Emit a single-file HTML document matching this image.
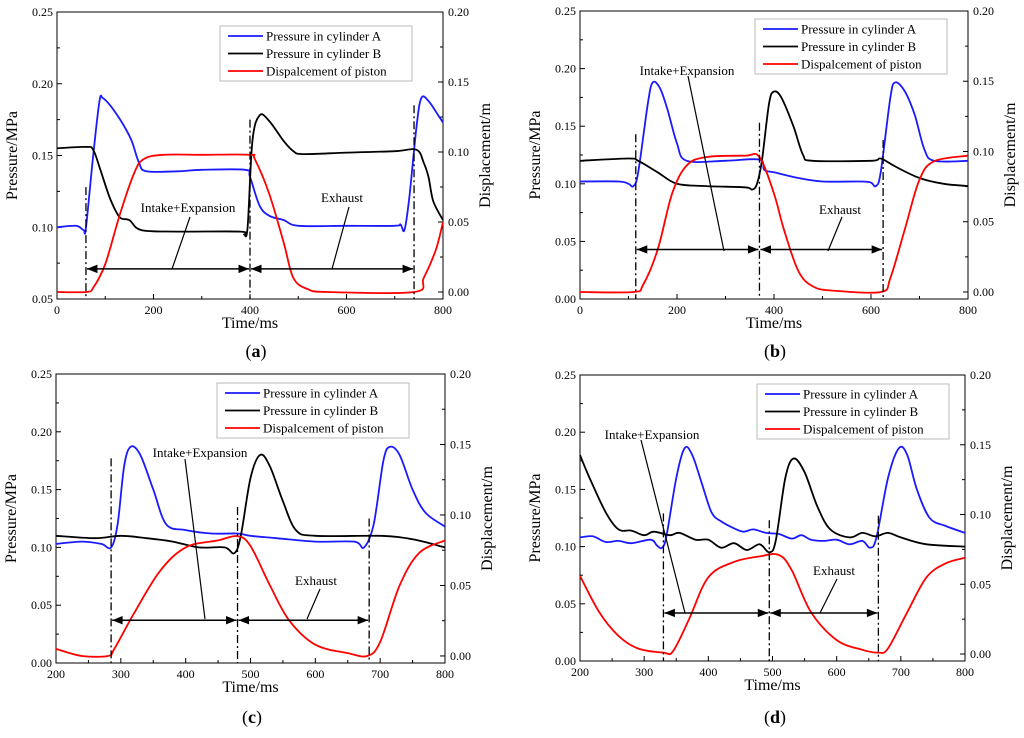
<!DOCTYPE html>
<html><head><meta charset="utf-8"><style>
body{margin:0;background:#fff;width:1024px;height:733px;overflow:hidden}
svg{font-family:"Liberation Serif",serif}
</style></head><body>
<svg id="chart" width="1024" height="733" viewBox="0 0 1024 733"></svg>
<script>
// ---- data (time ms, pressure MPa / displacement m) ----
const aTimeA=[0,40,55,60,75,88,95,110,125,140,155,170,185,250,300,390,400,420,440,470,500,600,700,712,720,730,745,755,770,790,800];
const aPresA=[0.100,0.101,0.098,0.100,0.150,0.188,0.190,0.185,0.178,0.170,0.160,0.145,0.139,0.139,0.140,0.140,0.135,0.115,0.108,0.105,0.101,0.101,0.101,0.102,0.098,0.120,0.170,0.190,0.188,0.178,0.173];
const aTimeB=[0,60,75,90,110,130,150,175,250,380,388,395,405,420,440,470,490,510,600,700,745,760,770,780,800];
const aPresB=[0.155,0.156,0.154,0.140,0.120,0.107,0.105,0.098,0.097,0.097,0.095,0.100,0.160,0.178,0.174,0.160,0.153,0.151,0.152,0.153,0.154,0.145,0.135,0.118,0.105];
const aTimeD=[0,60,75,100,130,160,180,220,300,400,410,440,470,490,520,560,740,760,785,800];
const aDisp=[0,0,0.003,0.020,0.055,0.085,0.095,0.098,0.098,0.098,0.095,0.070,0.035,0.010,0.002,0,0,0.010,0.030,0.050];

const bTimeA=[0,80,100,110,120,140,150,165,180,200,220,300,370,380,400,450,500,580,600,610,620,640,650,670,690,710,730,800];
const bPresA=[0.102,0.102,0.100,0.098,0.110,0.170,0.188,0.183,0.165,0.135,0.120,0.120,0.121,0.112,0.110,0.105,0.102,0.102,0.101,0.098,0.110,0.175,0.188,0.180,0.160,0.130,0.120,0.120];
const bTimeB=[0,100,120,160,200,260,340,355,365,375,390,400,415,440,460,480,600,620,650,700,750,800];
const bPresB=[0.120,0.122,0.120,0.110,0.100,0.098,0.097,0.095,0.100,0.120,0.170,0.180,0.175,0.150,0.125,0.120,0.120,0.122,0.115,0.105,0.100,0.098];
const bTimeD=[0,110,130,160,190,220,260,340,370,400,420,450,480,520,620,640,670,700,730,800];
const bDisp=[0,0,0.005,0.030,0.070,0.090,0.096,0.097,0.096,0.070,0.045,0.015,0.004,0.001,0,0.010,0.045,0.080,0.093,0.097];

const cTimeA=[200,240,270,285,295,305,315,330,350,370,400,440,480,500,540,600,660,675,690,705,715,730,750,770,800];
const cPresA=[0.103,0.105,0.103,0.100,0.120,0.170,0.187,0.180,0.150,0.120,0.115,0.112,0.112,0.110,0.108,0.105,0.105,0.100,0.120,0.175,0.187,0.180,0.150,0.130,0.118];
const cTimeB=[200,260,300,340,380,420,460,475,485,500,515,530,550,570,600,700,750,800];
const cPresB=[0.110,0.108,0.110,0.108,0.105,0.100,0.100,0.095,0.110,0.160,0.180,0.170,0.140,0.115,0.110,0.110,0.107,0.100];
const cTimeD=[200,240,280,290,320,360,400,450,480,500,530,560,600,650,680,700,730,760,800];
const cDisp=[0.005,0,0,0.005,0.030,0.060,0.077,0.082,0.085,0.078,0.050,0.025,0.008,0.002,0,0.010,0.050,0.073,0.082];

const dTimeA=[200,220,240,260,280,310,320,328,335,350,363,375,390,405,420,440,455,470,490,510,530,545,560,580,600,620,640,652,662,680,697,710,725,745,770,800];
const dPresA=[0.108,0.109,0.104,0.105,0.103,0.106,0.101,0.099,0.110,0.160,0.186,0.180,0.155,0.130,0.122,0.116,0.113,0.115,0.112,0.111,0.107,0.110,0.106,0.105,0.106,0.102,0.105,0.099,0.108,0.160,0.186,0.180,0.150,0.125,0.118,0.112];
const dTimeB=[200,215,240,260,280,300,315,340,355,380,400,420,440,460,480,495,505,520,533,550,570,590,620,640,660,680,700,740,800];
const dPresB=[0.180,0.160,0.130,0.115,0.114,0.110,0.113,0.110,0.112,0.106,0.106,0.099,0.103,0.097,0.102,0.095,0.105,0.160,0.177,0.165,0.135,0.115,0.108,0.112,0.109,0.112,0.108,0.102,0.100];
const dTimeD=[200,230,260,290,330,345,370,400,440,480,510,530,560,600,640,665,680,710,740,770,800];
const dDisp=[0.056,0.030,0.013,0.004,0.001,0.002,0.025,0.055,0.066,0.070,0.071,0.060,0.030,0.010,0.003,0.001,0.004,0.030,0.055,0.065,0.069];

const aStroke=[60,400,740], bStroke=[115,370,625], cStroke=[285,480,683], dStroke=[330,495,665];
const aStrokeTop=[0.128,0.175,0.185], bStrokeTop=[0.143,0.153,0.138], cStrokeTop=[0.177,0.135,0.125], dStrokeTop=[0.129,0.123,0.127];
const aArrowP=0.071, bArrowP=0.043, cArrowP=0.037, dArrowP=0.042;
const leftTicksA=["0.05","0.10","0.15","0.20","0.25"];
const leftTicks=["0.00","0.05","0.10","0.15","0.20","0.25"];
const rightTicks=["0.00","0.05","0.10","0.15","0.20"];
const xTicks08=[0,200,400,600,800];
const xTicks28=[200,300,400,500,600,700,800];

const NS="http://www.w3.org/2000/svg";
const svg=document.getElementById('chart');
function el(tag,attrs,parent,text){const e=document.createElementNS(NS,tag);for(const k in attrs)e.setAttribute(k,attrs[k]);if(text!==undefined)e.textContent=text;(parent||svg).appendChild(e);return e;}
function smooth(pts){let d="M"+pts[0][0].toFixed(1)+","+pts[0][1].toFixed(1);
 for(let i=0;i<pts.length-1;i++){const p0=pts[Math.max(0,i-1)],p1=pts[i],p2=pts[i+1],p3=pts[Math.min(pts.length-1,i+2)];
  const c1=[p1[0]+(p2[0]-p0[0])/6,p1[1]+(p2[1]-p0[1])/6],c2=[p2[0]-(p3[0]-p1[0])/6,p2[1]-(p3[1]-p1[1])/6];
  d+=" C"+c1[0].toFixed(1)+","+c1[1].toFixed(1)+" "+c2[0].toFixed(1)+","+c2[1].toFixed(1)+" "+p2[0].toFixed(1)+","+p2[1].toFixed(1);}
 return d;}

const panels=[
 {id:'a',L:57,R:443,T:12,B:299,x0:0,x1:800,xt:xTicks08,y0:0.05,lt:leftTicksA,tA:aTimeA,pA:aPresA,tB:aTimeB,pB:aPresB,tD:aTimeD,dd:aDisp,st:aStroke,stt:aStrokeTop,ap:aArrowP,
  leg:[220,26],intake:[188,212,190,217,172,269],exh:[342,202,349,207,332,269],cap:[256,357]},
 {id:'b',L:580,R:968,T:11,B:299,x0:0,x1:800,xt:xTicks08,y0:0,lt:leftTicks,tA:bTimeA,pB:bPresB,pA:bPresA,tB:bTimeB,tD:bTimeD,dd:bDisp,st:bStroke,stt:bStrokeTop,ap:bArrowP,
  leg:[755,19],intake:[687,75,688,76,724,251],exh:[840,214,842,217,828,251],cap:[775,357]},
 {id:'c',L:56,R:445,T:374,B:663,x0:200,x1:800,xt:xTicks28,y0:0,lt:leftTicks,tA:cTimeA,pA:cPresA,tB:cTimeB,pB:cPresB,tD:cTimeD,dd:cDisp,st:cStroke,stt:cStrokeTop,ap:cArrowP,
  leg:[217,383],intake:[200,457,185,459,205,619],exh:[316,585,320,589,307,619],cap:[252,723]},
 {id:'d',L:580,R:965,T:375,B:661,x0:200,x1:800,xt:xTicks28,y0:0,lt:leftTicks,tA:dTimeA,pA:dPresA,tB:dTimeB,pB:dPresB,tD:dTimeD,dd:dDisp,st:dStroke,stt:dStrokeTop,ap:dArrowP,
  leg:[757,384],intake:[652,439,641,440,685,613],exh:[834,575,837,579,820,613],cap:[775,723]}
];
el('defs',{}).innerHTML='<marker id="ah" viewBox="0 0 10 10" refX="10" refY="5" markerWidth="9" markerHeight="7" orient="auto-start-reverse"><path d="M0,1 L10,5 L0,9 z" fill="#000"/></marker>';

panels.forEach(P=>{
 const g=el('g',{});  
 const x=t=>P.L+(t-P.x0)/(P.x1-P.x0)*(P.R-P.L);
 const y=p=>P.B-(p-P.y0)/(0.25-P.y0)*(P.B-P.T);
 const yr=d=>P.B-(d+0.005)/0.205*(P.B-P.T);
 // ticks
 const xstep=(P.xt[1]-P.xt[0])/2;
 for(let t=P.x0;t<=P.x1;t+=xstep){const maj=P.xt.includes(t);el('line',{x1:x(t),x2:x(t),y1:P.B,y2:P.B-(maj?5:3),stroke:'#000'},g);}
 P.xt.forEach(t=>{const e=el('text',{x:x(t),y:P.B+15,'text-anchor':'middle','font-size':12},g,String(t));});
 P.lt.forEach((s,i)=>{const v=parseFloat(s);el('line',{x1:P.L,x2:P.L+5,y1:y(v),y2:y(v),stroke:'#000'},g);
  if(i<P.lt.length-1){const m=v+0.025;el('line',{x1:P.L,x2:P.L+3,y1:y(m),y2:y(m),stroke:'#000'},g);}
  const e=el('text',{x:P.L-4,y:y(v)+4,'text-anchor':'end','font-size':12},g,s);});
 rightTicks.forEach((s,i)=>{const v=parseFloat(s);el('line',{x1:P.R,x2:P.R-5,y1:yr(v),y2:yr(v),stroke:'#000'},g);
  if(i<rightTicks.length-1){const m=v+0.025;el('line',{x1:P.R,x2:P.R-3,y1:yr(m),y2:yr(m),stroke:'#000'},g);}
  const e=el('text',{x:P.R+5,y:yr(v)+4,'font-size':12},g,s);});
 const fr=el('rect',{x:P.L,y:P.T,width:P.R-P.L,height:P.B-P.T,fill:'none',stroke:'#000','stroke-width':1},g);
 
 // series
 const sA=el('path',{d:smooth(P.tA.map((t,i)=>[x(t),y(P.pA[i])])),fill:'none',stroke:'#1a1aff','stroke-width':1.8},g);
 
 const sB=el('path',{d:smooth(P.tB.map((t,i)=>[x(t),y(P.pB[i])])),fill:'none',stroke:'#000','stroke-width':1.8},g);
 
 const sD=el('path',{d:smooth(P.tD.map((t,i)=>[x(t),yr(P.dd[i])])),fill:'none',stroke:'#f00','stroke-width':1.8},g);
 
 // stroke markers
 P.st.forEach((t,i)=>{const v=el('line',{x1:x(t),x2:x(t),y1:y(P.stt[i]),y2:P.B,stroke:'#000','stroke-width':1.3,'stroke-dasharray':'8,3,2,3'},g);
  });
 const ay=y(P.ap);
 for(let i=0;i<2;i++){const a=el('line',{x1:x(P.st[i])+1,x2:x(P.st[i+1])-1,y1:ay,y2:ay,stroke:'#000','stroke-width':1.5,'marker-start':'url(#ah)','marker-end':'url(#ah)'},g);
  }
 const it=el('text',{x:P.intake[0],y:P.intake[1],'text-anchor':'middle','font-size':13},g,'Intake+Expansion');
 
 el('line',{x1:P.intake[2],y1:P.intake[3],x2:P.intake[4],y2:P.intake[5],stroke:'#000','stroke-width':1.2},g);
 const et=el('text',{x:P.exh[0],y:P.exh[1],'text-anchor':'middle','font-size':13},g,'Exhaust');
 
 el('line',{x1:P.exh[2],y1:P.exh[3],x2:P.exh[4],y2:P.exh[5],stroke:'#000','stroke-width':1.2},g);
 // legend
 const lg=el('g',{},g);
 const [lx,ly]=P.leg;
 el('rect',{x:lx,y:ly,width:192,height:55,fill:'#fff',stroke:'#bbb'},lg);
 [['#1a1aff','Pressure in cylinder A'],['#000','Pressure in cylinder B'],['#f00','Dispalcement of piston']].forEach((e,i)=>{
  const yy=ly+10+i*17.5;el('line',{x1:lx+8,x2:lx+43,y1:yy,y2:yy,stroke:e[0],'stroke-width':1.8},lg);
  const t=el('text',{x:lx+46,y:yy+4.5,'font-size':13},lg,e[1]);});
 // axis titles
 const cx=(P.L+P.R)/2, cy=(P.T+P.B)/2;
 const xt=el('text',{x:cx,y:P.B+29,'text-anchor':'middle','font-size':16},g,'Time/ms');
 const yl=el('text',{x:0,y:0,'text-anchor':'middle','font-size':16,transform:`translate(${P.L-40},${cy}) rotate(-90)`},g,'Pressure/MPa');
 const yr2=el('text',{x:0,y:0,'text-anchor':'middle','font-size':16,transform:`translate(${P.R+47},${cy}) rotate(-90)`},g,'Displacement/m');
 const cp=el('text',{x:P.cap[0],y:P.cap[1],'text-anchor':'middle','font-size':18},g);cp.innerHTML='(<tspan font-weight="bold">'+P.id+'</tspan>)';
 
});
</script>
</body></html>
